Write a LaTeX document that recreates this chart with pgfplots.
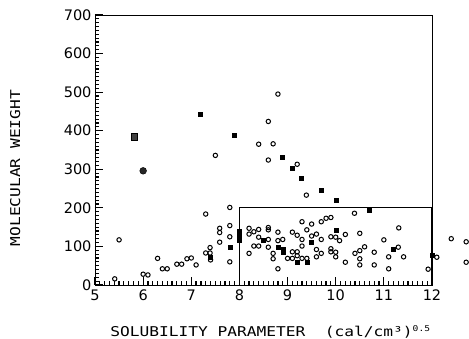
\documentclass[border=0pt]{standalone}
\usepackage{pgfplots}
\pgfplotsset{compat=1.18}
\usepackage{fontspec}
\newfontfamily\tickfont{DejaVu Sans}
\newfontfamily\labfont[FakeStretch=1.2]{DejaVu Sans Mono}
\begin{document}
\begin{tikzpicture}
\path[use as bounding box] (-95pt,-54pt) rectangle (374pt,285pt);
\begin{axis}[
  at={(0pt,0pt)}, anchor=origin,
  scale only axis, width=337pt, height=270pt,
  xmin=5, xmax=12, ymin=0, ymax=700,
  xtick={5,6,...,12}, ytick={0,100,...,700},
  minor x tick num=9, minor y tick num=9,
  tick align=inside,
  xtick pos=bottom, ytick pos=left,
  major tick length=8pt, minor tick length=4pt,
  every tick/.append style={black, line width=1.2pt},
  axis line style={line width=0.9pt},
  clip=false,
  /pgf/number format/assume math mode=true,
  tick label style={font=\tickfont\fontsize{14.5}{15}\selectfont},
  xticklabel style={yshift=-1pt},
  xlabel={SOLUBILITY PARAMETER\ \ (cal/cm³)\raisebox{5pt}{\fontsize{8}{8}\selectfont 0.5}},
  ylabel={MOLECULAR WEIGHT},
  label style={font=\labfont\fontsize{13.5}{14}\selectfont},
  xlabel style={at={(axis description cs:0.52,-0.19)}, anchor=base},
  ylabel style={at={(axis description cs:-0.237,0.433)}, anchor=center, rotate=0},
]
\addplot[black, line width=1.2pt, mark=none] coordinates {(8,0)(8,200)(12,200)(12,0)};
\addplot[only marks, mark=o, mark size=2.2pt, mark options={line width=1pt, black}] coordinates {
(5.41,16)(5.50,117)(6.0,28)(6.1,26)(6.30,69)(6.40,42)(6.50,42)(6.70,54)(6.80,54)(6.91,68)(7.0,70)(7.10,52)
(7.30,184)(7.30,83)(7.39,83)(7.39,97)(7.4,65)(7.5,336)(7.59,147)(7.59,136)(7.59,111)(7.8,201)(7.8,154)(7.8,125)(7.8,60)
(8.2,147)(8.2,132)(8.2,82)(8.3,138)(8.4,144)(8.4,124)(8.3,101)(8.4,101)(8.4,365)(8.6,424)(8.6,324)(8.6,149)(8.6,143)
(8.6,118)(8.6,98)(8.7,366)(8.7,82)(8.7,68)(8.8,495)(8.8,137)(8.8,115)(8.8,42)(8.9,118)(9.0,69)(9.1,69)(9.1,137)
(9.1,86)(9.2,86)(9.2,313)(9.2,129)(9.2,76)(9.3,164)(9.3,118)(9.3,101)(9.3,69)(9.39,233)(9.4,143)(9.4,69)(9.5,158)
(9.5,127)(9.6,132)(9.6,92)(9.6,73)(9.7,164)(9.7,118)(9.7,82)(9.8,173)(9.9,175)(9.9,125)(9.9,94)(9.9,86)(10.0,124)
(10.0,85)(10.0,73)(10.08,115)(10.2,131)(10.2,59)(10.39,186)(10.4,82)(10.5,134)(10.5,89)(10.5,68)(10.5,52)(10.6,99)
(10.8,85)(10.8,52)(11.0,117)(11.1,73)(11.1,42)(11.31,148)(11.3,98)(11.41,73)(11.92,41)(12.1,72)(12.4,120)(12.71,112)(12.71,59)
};
\addplot[only marks, mark=square*, mark size=2.0pt, mark options={black}] coordinates {
(7.19,443)(7.89,388)(8.89,331)(9.1,302)(9.29,277)(9.70,246)(10.0,220)(10.7,193)(7.8,98)(8.5,115)(9.5,112)
(10.0,143)(11.2,94)(12.0,77)(7.4,72)(8.8,99)(8.9,94)(8.9,85)(9.2,60)(9.4,60)(7.99,140)(7.99,130)(7.99,117)
};
\addplot[only marks, mark=square*, mark size=3.2pt, mark options={black, fill=black!75}] coordinates {(5.82,384)};
\addplot[only marks, mark=*, mark size=3.4pt, mark options={black, fill=black!85}] coordinates {(6.0,296)};
\end{axis}
\end{tikzpicture}
\end{document}
